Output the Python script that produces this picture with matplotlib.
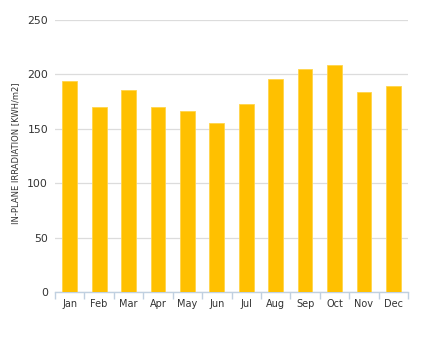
import numpy as np
import matplotlib.pyplot as plt

months = ["Jan", "Feb", "Mar", "Apr", "May", "Jun",
          "Jul", "Aug", "Sep", "Oct", "Nov", "Dec"]
irradiation = [194, 170, 186, 170, 166, 155, 173, 196, 205, 209, 184, 189]

fig = plt.figure(figsize=(4.44, 3.49), dpi=100)
ax = fig.add_axes([0.124, 0.163, 0.795, 0.78])

x = np.arange(len(months))
ax.bar(x, irradiation, width=0.5, color="#FFC000", edgecolor="#FFD54A",
       linewidth=0.6, zorder=3)

ax.set_xlim(-0.5, len(months) - 0.5)
ax.set_ylim(0, 250)
ax.set_yticks(np.arange(0, 251, 50))
ax.grid(axis="y", color="#DCDCDC", linewidth=0.9, zorder=0)

ax.set_xticks(x)
ax.set_xticklabels(months)
ax.set_xticks(np.arange(-0.5, len(months), 1), minor=True)
ax.tick_params(axis="x", which="major", length=0, pad=5, labelsize=7,
               labelcolor="#333333")
ax.tick_params(axis="x", which="minor", length=5, color="#C0D0E0", width=1)
ax.tick_params(axis="y", length=0, pad=5, labelsize=7.8, labelcolor="#333333")

for s in ["top", "right", "left"]:
    ax.spines[s].set_visible(False)
ax.spines["bottom"].set_color("#C0D0E0")
ax.spines["bottom"].set_linewidth(1)

ax.set_ylabel("IN-PLANE IRRADIATION [KWH/m2]", fontsize=6, color="#333333")
ax.yaxis.set_label_coords(-0.1, 0.51)

fig.savefig("out.png", dpi=100)
